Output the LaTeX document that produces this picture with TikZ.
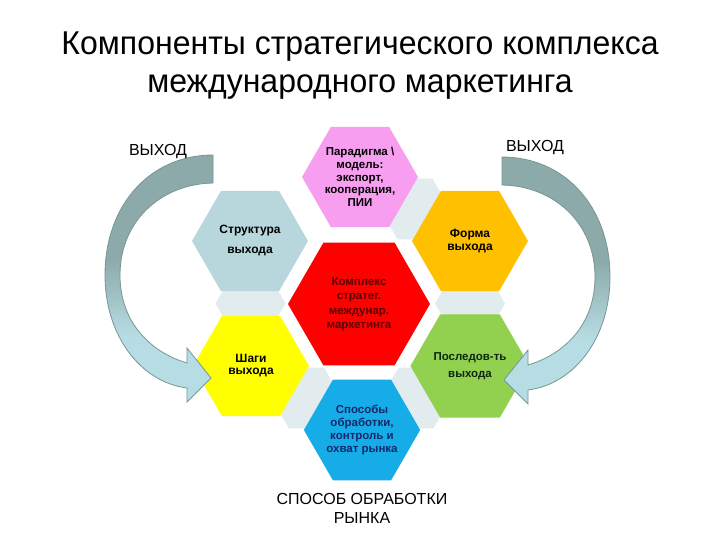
\documentclass[tikz,border=0pt]{standalone}
\usepackage{fontspec}
\setmainfont{Liberation Sans}
\newfontfamily\titlefont[FakeStretch=0.97]{Liberation Sans}
\usetikzlibrary{shapes.geometric}
\definecolor{cpink}{RGB}{248,158,240}
\definecolor{cstruct}{RGB}{184,215,221}
\definecolor{corange}{RGB}{255,192,0}
\definecolor{cred}{RGB}{255,0,0}
\definecolor{cyellow}{RGB}{255,255,0}
\definecolor{cgreen}{RGB}{146,208,80}
\definecolor{cblue}{RGB}{22,172,232}
\definecolor{cpale}{RGB}{226,236,238}
\definecolor{arone}{RGB}{140,170,170}
\definecolor{artwo}{RGB}{183,221,228}
\definecolor{arline}{RGB}{120,150,150}
\definecolor{tred}{RGB}{90,0,0}
\definecolor{tblue}{RGB}{20,40,110}
\definecolor{tgreen}{RGB}{15,40,15}
\pgfdeclareverticalshading{arrowshade}{100bp}{color(0bp)=(artwo); color(38bp)=(artwo); color(54bp)=(arone); color(100bp)=(arone)}
\begin{document}
\begin{tikzpicture}[x=1pt,y=-1pt,
  hexa/.style={regular polygon, regular polygon sides=6, minimum size=116pt, inner sep=0pt, draw=none, align=center, font=\fontsize{11.5}{12.8}\selectfont\bfseries},
  palehex/.style={regular polygon, regular polygon sides=6, minimum size=70pt, inner sep=0pt, fill=cpale, draw=none},
  arrowband/.style={shading=arrowshade, draw=arline, line width=0.8pt, line join=miter},
  lbl/.style={font=\fontsize{16}{19}\selectfont, align=center}
]
\useasboundingbox[fill=white] (0,0) rectangle (720,540);

% title
\node[font=\titlefont\fontsize{33}{38}\selectfont, align=center] (title) at (360,66) {Компоненты стратегического комплекса\\международного маркетинга};

% pale background hexagons
\node[palehex] (p1) at (415,209) {};
\node[palehex] (p2) at (470,303.5) {};
\node[palehex] (p3) at (416,398) {};
\node[palehex] (p4) at (306.5,398) {};
\node[palehex] (p5) at (250.5,303.5) {};

% hexagons
\node[hexa, fill=cpink] (par) at (360,177) {Парадигма \textbackslash\\модель:\\экспорт,\\кооперация,\\ПИИ};
\node[hexa, fill=cstruct, font=\fontsize{12}{13}\selectfont\bfseries] (str) at (250,241) {Структура\\[7pt]выхода};
\node[hexa, fill=corange, font=\fontsize{12}{13}\selectfont\bfseries] (frm) at (470,241) {Форма\\выхода};
\node[hexa, fill=cred, minimum size=142pt, text=tred, font=\fontsize{11.5}{14.5}\selectfont\bfseries] (cen) at (359,304) {Комплекс\\стратег.\\междунар.\\маркетинга};
\node[hexa, fill=cyellow, font=\fontsize{12}{12}\selectfont\bfseries] (stp) at (251,366) {Шаги\\выхода};
\node[hexa, fill=cgreen, text=tgreen] (seq) at (470,366) {Последов-ть\\[4pt]выхода};
\node[hexa, fill=cblue, text=tblue] (way) at (362,430) {Способы\\обработки,\\контроль и\\охват рынка};

% left curved arrow
\path[arrowband] (213,155) .. controls (150,155) and (105,205) .. (105,275)
  .. controls (105,335) and (140,382) .. (187,388)
  -- (187,402) -- (211,378) -- (187,348) -- (187,363)
  .. controls (150,352) and (120,322) .. (120,275)
  .. controls (120,222) and (160,184) .. (213,183) -- cycle;

% right curved arrow (mirror)
\begin{scope}[shift={(715,2)}, xscale=-1]
\path[arrowband] (213,155) .. controls (150,155) and (105,205) .. (105,275)
  .. controls (105,335) and (140,382) .. (187,388)
  -- (187,402) -- (211,378) -- (187,348) -- (187,363)
  .. controls (150,352) and (120,322) .. (120,275)
  .. controls (120,222) and (160,184) .. (213,183) -- cycle;
\end{scope}

% labels
\node[lbl] (outl) at (158,152) {ВЫХОД};
\node[lbl] (outr) at (535,148) {ВЫХОД};
\node[lbl] (mkt) at (362,508) {СПОСОБ ОБРАБОТКИ\\РЫНКА};
\end{tikzpicture}
\end{document}
